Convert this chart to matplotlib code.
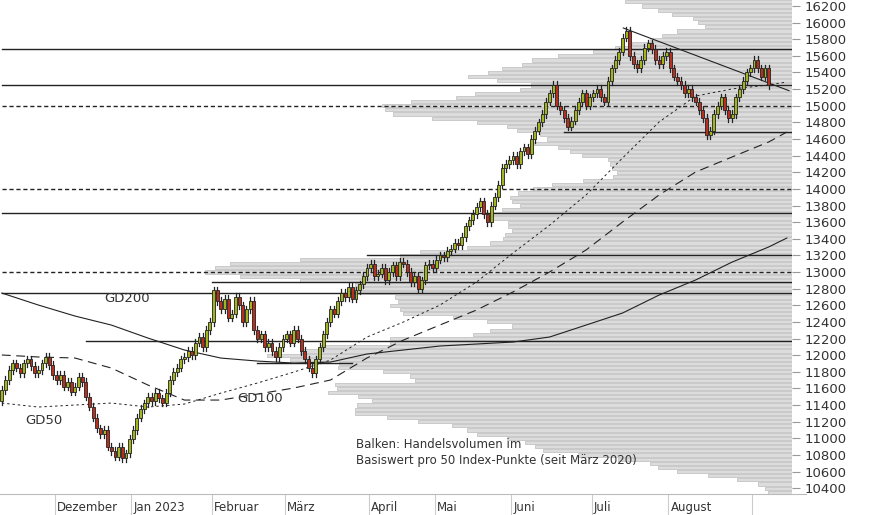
import numpy as np
import matplotlib
matplotlib.use("Agg")
import matplotlib.pyplot as plt

closes = [11580, 11700, 11820, 11900, 11850, 11780, 11900, 11950, 11870, 11780, 11820, 11900, 11980, 11880, 11760,
          11700, 11760, 11620, 11680, 11560, 11620, 11740, 11680, 11500, 11380, 11250, 11120, 11050, 11100, 10900, 10850, 10780, 10900, 10760, 10820, 10990,
          11100, 11250, 11350, 11420, 11500, 11450, 11550, 11480, 11430, 11550, 11700, 11800, 11850, 11950, 11980, 12050, 12000, 12150, 12220, 12100, 12300, 12400,
          12780, 12650, 12550, 12680, 12450, 12500, 12700, 12600, 12400, 12550, 12650, 12300, 12200, 12250, 12100, 12150, 12050, 11980, 12100, 12200,
          12250, 12150, 12300, 12200, 12050, 11950, 11850, 11780, 11950, 12100, 12250, 12400, 12550, 12500, 12650, 12750, 12700, 12820, 12680, 12780, 12850, 12950, 13050,
          13100, 12950, 12980, 13050, 12900, 13000, 13080, 12950, 13120, 13100, 13000, 12880, 12950, 12800, 12900, 13080, 13100, 13050,
          13150, 13200, 13180, 13250, 13280, 13350, 13320, 13420, 13550, 13620, 13700, 13780, 13850, 13700, 13600, 13800, 13900, 14050, 14250, 14300, 14350,
          14400, 14300, 14450, 14500, 14420, 14600, 14700, 14800, 14900, 15050, 15150, 15250, 15000, 14950, 14850, 14750, 14820, 14950, 15050, 15150, 15000, 15100,
          15150, 15200, 15100, 15050, 15300, 15450, 15550, 15650, 15820, 15900, 15600, 15500, 15450, 15550, 15700, 15750, 15680, 15550, 15500, 15600, 15650,
          15450, 15350, 15300, 15250, 15150, 15200, 15100, 15050, 14950, 14850, 14650, 14700, 14900, 15000, 15100, 14950, 14850, 14900, 15100, 15200, 15300, 15400, 15450,
          15550, 15450, 15350, 15450, 15250]
first_open = 11450
wick = 45

ma_idx = [0, 10, 20, 30, 40, 50, 60, 70, 80, 90, 100, 110, 120, 130, 140, 150, 160, 170, 180, 190, 200, 210, 215]
gd200 = [12747, 12603, 12471, 12362, 12206, 12062, 11965, 11929, 11905, 11917, 12014, 12062, 12110, 12134, 12158, 12218, 12362, 12507, 12723, 12904, 13120, 13301, 13409]
gd100 = [12002, 11978, 11966, 11845, 11641, 11460, 11460, 11532, 11605, 11701, 11966, 12182, 12363, 12543, 12760, 13000, 13265, 13602, 13927, 14203, 14384, 14564, 14684]
gd50 = [11424, 11376, 11400, 11424, 11376, 11412, 11544, 11665, 11797, 11941, 12218, 12399, 12603, 12880, 13229, 13563, 13927, 14372, 14805, 15117, 15202, 15250, 15286]

prof_vol = [167, 150, 134, 120, 99, 94, 87, 115, 130, 142, 160, 177, 199, 234, 260, 270, 290, 304, 324, 295, 261, 272, 317, 336, 381, 410, 407, 399, 360, 315,
            285, 275, 252, 245, 259, 234, 222, 210, 184, 182, 180, 175, 179, 209, 240, 259, 274, 282, 280, 272, 290, 302, 305, 284, 284, 280, 287, 289, 302, 325,
            372, 392, 492, 562, 577, 587, 552, 492, 437, 437, 442, 397, 394, 402, 392, 389, 339, 305, 280, 302, 319, 402, 402, 472, 492, 525, 502, 453, 454, 409,
            382, 377, 457, 455, 464, 434, 420, 435, 437, 437, 405, 374, 340, 325, 315, 285, 267, 257, 249, 214, 174, 142, 134, 115, 84, 55, 34, 27, 24]
prof_top = 16250

hlines = [(15680, 0, '-'), (15250, 0, '-'), (15000, 0, '--'), (14680, 154, '-'), (14000, 0, '--'),
          (13710, 0, '-'), (13205, 100, '-'), (13000, 0, '--'), (12880, 57.5, '-'), (12745, 0, '-'), (12170, 23, '-')]
support = (11905, 70, 96)
trend = ((170.2, 15935), (215.6, 15181))

month_pos = [15, 36, 58, 78, 101, 119, 140, 162, 183, 206]
month_lab = ["Dezember", "Jan 2023", "Februar", "März", "April", "Mai", "Juni", "Juli", "August"]
yticks = list(range(10400, 16201, 200))

W, H = 874, 515
fig = plt.figure(figsize=(W/100, H/100), dpi=100)
ax = fig.add_axes([0, 21/H, 792/W, 1 - 21/H])
XMAX = 216.4
ax.set_xlim(-0.5, XMAX)
ax.set_ylim(10330, 16272)

ax2 = ax.twiny()
ax2.set_xlim(792, 0)
prof_prices = prof_top - 50 * np.arange(len(prof_vol))
ax2.barh(prof_prices, prof_vol, height=38, left=0, color='#dcdcdc', edgecolor='#c4c4c4', linewidth=0.6, zorder=0)
ax2.set_xticks([])
for s in ax2.spines.values():
    s.set_visible(False)
ax.set_zorder(ax2.get_zorder() + 1)
ax.patch.set_visible(False)

for p, x0, ls in hlines:
    ax.plot([x0, XMAX], [p, p], color='#222222', lw=1.0, ls=(0, (3, 2)) if ls == '--' else '-', zorder=2)
ax.plot([support[1], support[2]], [support[0]] * 2, color='#222222', lw=1.0, zorder=2)
ax.plot([trend[0][0], trend[1][0]], [trend[0][1], trend[1][1]], color='#222222', lw=0.8, zorder=2)

ax.plot(ma_idx, gd200, color='#222222', lw=0.8, zorder=2)
ax.plot(ma_idx, gd100, color='#222222', lw=0.8, ls=(0, (8, 5)), zorder=2)
ax.plot(ma_idx, gd50, color='#222222', lw=0.7, ls=(0, (2.5, 3)), zorder=2)

opens = [first_open] + closes[:-1]
for i, (o, c) in enumerate(zip(opens, closes)):
    hi = max(o, c) + wick
    lo = min(o, c) - wick
    ax.plot([i, i], [lo, hi], color='#222222', lw=0.9, zorder=3)
    col = '#a2b51f' if c >= o else '#b5301f'
    body = max(abs(c - o), 15)
    ax.add_patch(plt.Rectangle((i - 0.4, min(o, c)), 0.8, body, facecolor=col, edgecolor='#222222', lw=0.6, zorder=4))

ax.text(28, 12680, "GD200", fontsize=9.5, color='#333333', ha='left', va='center')
ax.text(64.5, 11480, "GD100", fontsize=9.5, color='#333333', ha='left', va='center')
ax.text(6.5, 11215, "GD50", fontsize=9.5, color='#333333', ha='left', va='center')
ax.text(97, 10830, "Balken: Handelsvolumen im\nBasiswert pro 50 Index-Punkte (seit März 2020)", fontsize=8.5,
        color='#333333', ha='left', va='center', linespacing=1.3)

ax.yaxis.tick_right()
ax.set_yticks(yticks)
ax.set_yticklabels([str(t) for t in yticks], fontsize=9.5, color='#333333')
ax.tick_params(axis='y', length=6, color='#999999', width=0.8, pad=3)
ax.set_xticks([])
for k, s in ax.spines.items():
    s.set_visible(False)

for m in month_pos:
    ax.plot([m - 0.5, m - 0.5], [10330, 10330 - 21 * 12.03], color='#cccccc', lw=0.8, clip_on=False)
for m, lab in zip(month_pos, month_lab):
    ax.text(m + 0.2, 10330 - 13 * 12.03, lab, fontsize=8.5, color='#333333', ha='left', va='center', clip_on=False)
ax.plot([-0.5, XMAX + 14 / 3.66], [10330, 10330], color='#bbbbbb', lw=0.8, clip_on=False)

fig.savefig("out.png", dpi=100)
